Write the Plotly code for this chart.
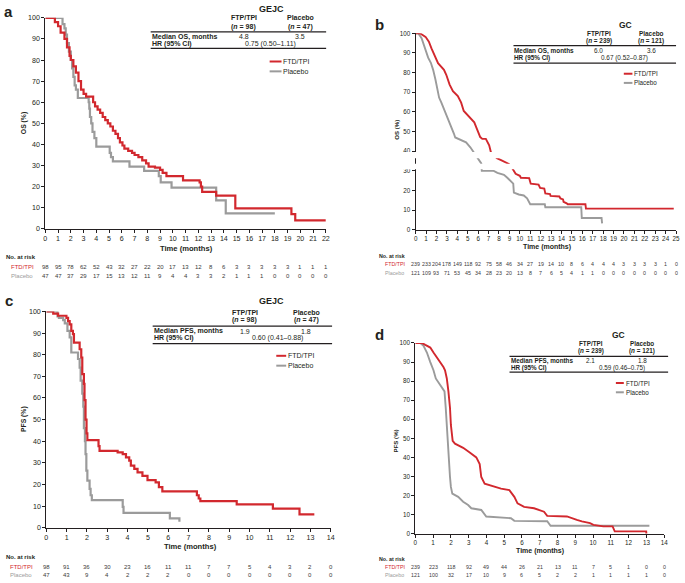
import plotly.graph_objects as go

W, H = 685, 583
RED = '#d2282e'
GREY = '#9b9b9b'
INK = '#231f20'
FONT = 'Liberation Sans, Arial, sans-serif'

# ---- a: GEJC, overall survival (step changes) ----
os_gejc_ftd_t = [0, 0.75, 1.0, 1.2, 1.5, 1.7, 1.9, 2.0, 2.2, 2.4, 2.6, 2.8, 3.0, 3.2, 3.75, 3.9,
                 4.1, 4.3, 4.5, 4.7, 4.9, 5.1, 5.3, 5.5, 5.7, 5.85, 6.05, 6.2, 6.5, 6.8, 7.0, 7.3,
                 7.6, 7.9, 8.1, 8.6, 9.0, 9.2, 9.5, 10.8, 12.1, 12.2, 12.3, 13.4, 14.9, 19.3, 19.6, 22.0]
os_gejc_ftd_s = [100, 98, 96, 93, 90, 86, 82, 80, 77, 74, 70, 66, 64, 62.7, 60, 58,
                 56.5, 55, 53, 51.5, 50, 48.5, 46.5, 45, 43, 41, 39.5, 38, 37, 36, 35, 34,
                 32.5, 31, 29.5, 29, 28, 26.5, 25, 23, 22, 20, 17.5, 15.8, 9.7, 7, 4, 4]
os_gejc_pbo_t = [0, 1.35, 1.5, 1.6, 1.7, 1.85, 2.0, 2.1, 2.2, 2.3, 2.4, 2.55, 3.4, 3.45, 3.5,
                 3.6, 3.7, 3.85, 4.0, 5.05, 5.15, 5.3, 6.6, 7.75, 8.9, 9.05, 9.9, 13.4, 14.15, 18.0]
os_gejc_pbo_s = [100, 97, 95, 92, 88, 84, 80, 76, 72, 68, 66, 62, 60, 57, 53,
                 50, 46, 43, 39, 36, 34, 32, 29.5, 27.5, 25, 22, 19.5, 13.5, 7.3, 7.3]
os_gejc_risk_ftd = [98, 95, 78, 62, 52, 43, 32, 27, 22, 20, 17, 13, 12, 8, 6, 3, 3, 3, 3, 3, 1, 1, 1]
os_gejc_risk_pbo = [47, 47, 37, 29, 17, 15, 13, 12, 11, 9, 4, 4, 3, 3, 2, 1, 1, 1, 0, 0, 0, 0, 0]

# ---- b: GC, overall survival (traced outline) ----
os_gc_ftd_t = [0, 0.41, 0.95, 1.27, 1.52, 1.84, 2.15, 2.72, 2.94, 3.26, 3.58, 4.05, 4.37, 4.62,
               5.16, 5.63, 5.89, 6.2, 6.4, 6.74, 7.06, 7.22, 7.5, 7.8, 8.2, 8.6, 8.95, 9.2, 9.43,
               9.6, 10.0, 10.1, 10.9, 11.05, 11.8, 11.95, 12.35, 12.45, 12.9, 12.95, 13.8, 13.9,
               14.15, 14.2, 14.5, 14.6, 16.3, 16.35, 24.78]
os_gc_ftd_s = [100, 100, 98.2, 95.7, 92.3, 88.1, 84.8, 81.4, 78.9, 73.9, 70.6, 68.1, 64.7, 60.5,
               57.2, 54.7, 51.3, 47.2, 46.3, 46.3, 43, 39.6, 38, 36.5, 35.5, 34.5, 33.5, 32, 30,
               28.5, 27.5, 26.5, 26.3, 23.5, 23, 21.3, 21, 18.5, 18.2, 17.3, 17, 16,
               15.5, 14.3, 13.5, 13, 13, 10.8, 10.8]
os_gc_pbo_t = [0, 0.25, 0.57, 0.82, 1.04, 1.2, 1.46, 1.68, 1.9, 2.09, 2.25, 2.47, 2.72, 3.04, 3.42,
               3.67, 3.8, 4.2, 4.5, 4.84, 5.25, 5.47, 5.7, 5.9, 6.1, 6.3, 6.35, 7.5, 7.85, 8.48,
               8.8, 9.11, 9.37, 9.43, 9.9, 10.38, 10.7, 11.0, 12.4, 12.45, 15.9, 15.95, 17.85, 17.9]
os_gc_pbo_s = [100, 100, 97.5, 93.4, 90, 87.6, 85, 81.4, 76.5, 71.4, 67.3, 64.7, 61.5, 57.2, 53,
               49, 47, 46, 45.5, 44.5, 42, 40.2, 38.5, 36.5, 35, 33.8, 30, 30, 29, 28,
               26.5, 25, 23.5, 19, 18, 17.5, 16, 13, 13, 11.5, 11.5, 6, 6, 3.3]
os_gc_risk_ftd = [239, 233, 204, 178, 149, 118, 92, 75, 58, 46, 34, 27, 19, 14, 10, 8, 6, 4, 4, 4,
                  3, 3, 3, 3, 1, 0]
os_gc_risk_pbo = [121, 109, 93, 71, 53, 45, 34, 28, 23, 20, 13, 8, 7, 6, 5, 4, 1, 1, 0, 0,
                  0, 0, 0, 0, 0, 0]

# ---- c: GEJC, progression-free survival (step changes) ----
pfs_gejc_ftd_t = [0, 0.34, 0.58, 0.99, 1.07, 1.15, 1.23, 1.31, 1.36, 1.64, 1.72, 1.77, 1.85, 1.88,
                  1.93, 1.98, 2.02, 2.57, 2.62, 3.51, 3.76, 3.92, 4.08, 4.16, 4.33, 4.49, 4.73,
                  4.98, 5.38, 5.54, 5.71, 7.41, 7.5, 7.58, 9.37, 11.15, 12.46, 13.19]
pfs_gejc_ftd_s = [100, 99, 98, 97, 95.5, 94, 91, 89.5, 85.6, 82.5, 78.7, 71, 66.5, 59,
                  50, 43.6, 40.5, 37.7, 35.5, 34.8, 34, 32.5, 31, 28.7, 27.2, 25.6, 24,
                  22, 21, 18.8, 16.8, 15, 13.5, 12.3, 10.8, 8.8, 6.2, 6.2]
pfs_gejc_pbo_t = [0, 0.55, 0.62, 0.83, 0.91, 1.04, 1.15, 1.23, 1.56, 1.64, 1.69, 1.77, 1.82, 1.85,
                  1.9, 1.93, 1.97, 2.02, 2.13, 2.18, 2.24, 3.76, 3.8, 6.08, 6.55]
pfs_gejc_pbo_s = [100, 97.7, 97, 96, 94.5, 91, 88, 81, 78, 74, 68, 62, 56, 46,
                  40, 34, 26.4, 21.8, 18, 15, 12.8, 9.6, 6.9, 4.3, 2.7]
pfs_gejc_risk_ftd = [98, 91, 36, 30, 23, 16, 11, 11, 7, 7, 5, 4, 3, 2, 0]
pfs_gejc_risk_pbo = [47, 43, 9, 4, 2, 2, 2, 0, 0, 0, 0, 0, 0, 0, 0]

# ---- d: GC, progression-free survival (traced outline) ----
pfs_gc_ftd_t = [0, 0.37, 0.56, 0.84, 1.02, 1.21, 1.39, 1.58, 1.67, 1.77, 1.86, 1.95, 2.0, 2.05,
                2.1, 2.23, 2.69, 3.06, 3.43, 3.62, 3.71, 3.9, 4.45, 4.82, 5.29, 5.57, 5.75, 6.12,
                6.68, 6.96, 7.24, 7.42, 8.53, 9.09, 9.37, 9.83, 10.02, 10.58, 11.1, 11.22, 12.99, 13.0]
pfs_gc_ftd_s = [100, 100, 99, 97.6, 95, 92.5, 90, 87.4, 85.7, 81.4, 74.6, 66, 57, 50,
                48.6, 47.2, 45, 42.6, 40, 36.5, 29.7, 26.2, 24.5, 23.6, 22.8, 19.3, 15.9, 14,
                13.3, 12.4, 11.5, 9.3, 9, 7.2, 6.4, 5.5, 4.6, 3.8, 3.8, 1.2, 1.2, 0]
pfs_gc_pbo_t = [0, 0.28, 0.46, 0.65, 0.84, 1.02, 1.15, 1.39, 1.64, 1.71, 1.77, 1.86, 1.95, 2.0,
                2.08, 2.41, 2.69, 2.97, 3.15, 3.71, 3.9, 3.99, 5.38, 5.57, 7.42, 7.61, 13.17]
pfs_gc_pbo_s = [100, 100, 98.5, 95, 90, 85.7, 81.4, 78, 74.6, 66, 55, 41.7, 29.7, 24.5,
                21, 19.3, 16.7, 15, 13.3, 12.4, 10.3, 9, 8.1, 6.7, 6.5, 4.1, 4.1]
pfs_gc_risk_ftd = [239, 223, 118, 92, 49, 44, 26, 21, 13, 11, 7, 5, 1, 0, 0]
pfs_gc_risk_pbo = [121, 100, 32, 17, 10, 9, 6, 5, 2, 2, 1, 1, 1, 1, 0]


def px(x):
    return x / W


def py(y):
    return 1 - y / H


panels = [
    dict(letter='a', xmax=22, box=(43.7, 326.7, 14.0, 228.0), shape='hv', lw=2.2,
         ftd=(os_gejc_ftd_t, os_gejc_ftd_s), pbo=(os_gejc_pbo_t, os_gejc_pbo_s),
         risk=(os_gejc_risk_ftd, os_gejc_risk_pbo), ytitle='OS (%)',
         tick=7.1, small=6.0, xtsize=7.6,
         letter_xy=(7, 8), ytitle_xy=(23, 121), xtitle_xy=(186, 248),
         risk_y=(256.7, 267, 276), risk_lbl_x=(2.7, 8.3),
         table=dict(title='GEJC', title_xy=(272, 5), cols=(244, 301), head_y=(14, 23.3),
                    n=('98', '47'), rule_x=(150, 327), rule_y=(28.3, 45), row_y=(33.3, 41),
                    lbl='Median OS, months', med=('4.8', '3.5'), hr='0.75 (0.50–1.11)',
                    hr_x=271, size=7.0, tsize=9),
         legend=dict(x=(270, 282), y=(58.3, 68.3)), lsize=7.0),
    dict(letter='b', xmax=25, box=(417.3, 680.0, 29.7, 229.0), shape='linear', lw=1.9,
         ftd=(os_gc_ftd_t, os_gc_ftd_s), pbo=(os_gc_pbo_t, os_gc_pbo_s),
         risk=(os_gc_risk_ftd, os_gc_risk_pbo), ytitle='OS (%)',
         tick=6.3, small=5.3, xtsize=7.0,
         letter_xy=(381, 20.5), ytitle_xy=(398, 128), xtitle_xy=(550, 246.5),
         risk_y=(255, 264, 272.7), risk_lbl_x=(379.3, 385),
         table=dict(title='GC', title_xy=(629, 21), cols=(602, 655), head_y=(30, 38),
                    n=('239', '121'), rule_x=(516, 680), rule_y=(42.3, 60), row_y=(47.3, 54.7),
                    lbl='Median OS, months', med=('6.0', '3.6'), hr='0.67 (0.52–0.87)',
                    hr_x=628, size=6.4, tsize=8.5),
         legend=dict(x=(627.3, 636), y=(70.7, 80)), lsize=6.3),
    dict(letter='c', xmax=14, box=(44.7, 331.7, 311.7, 531.0), shape='hv', lw=2.2,
         ftd=(pfs_gejc_ftd_t, pfs_gejc_ftd_s), pbo=(pfs_gejc_pbo_t, pfs_gejc_pbo_s),
         risk=(pfs_gejc_risk_ftd, pfs_gejc_risk_pbo), ytitle='PFS (%)',
         tick=7.1, small=6.0, xtsize=7.6,
         letter_xy=(7, 301), ytitle_xy=(22, 421), xtitle_xy=(190, 550.5),
         risk_y=(560.7, 570.7, 579.3), risk_lbl_x=(2.7, 6.7),
         table=dict(title='GEJC', title_xy=(272, 301), cols=(245, 307), head_y=(312.3, 320),
                    n=('98', '47'), rule_x=(152, 333), rule_y=(326.7, 344.3), row_y=(331.7, 338.5),
                    lbl='Median PFS, months', med=('1.9', '1.8'), hr='0.60 (0.41–0.88)',
                    hr_x=278, size=7.0, tsize=9),
         legend=dict(x=(276.7, 286.7), y=(356.7, 366.7)), lsize=7.0),
    dict(letter='d', xmax=14, box=(417.0, 668.0, 343.7, 537.0), shape='linear', lw=1.9,
         ftd=(pfs_gc_ftd_t, pfs_gc_ftd_s), pbo=(pfs_gc_pbo_t, pfs_gc_pbo_s),
         risk=(pfs_gc_risk_ftd, pfs_gc_risk_pbo), ytitle='PFS (%)',
         tick=6.3, small=5.3, xtsize=7.0,
         letter_xy=(381, 335.5), ytitle_xy=(397, 443), xtitle_xy=(543, 554.5),
         risk_y=(562.3, 571, 579.3), risk_lbl_x=(379.3, 385),
         table=dict(title='GC', title_xy=(622, 336), cols=(594, 646), head_y=(344.3, 352.3),
                    n=('239', '121'), rule_x=(512, 672), rule_y=(357.3, 373.3), row_y=(361.7, 369.3),
                    lbl='Median PFS, months', med=('2.1', '1.8'), hr='0.59 (0.46–0.75)',
                    hr_x=625, size=6.3, tsize=8.5),
         legend=dict(x=(619.3, 627.3), y=(384.3, 393.7)), lsize=6.3),
]

fig = go.Figure()
annotations = []
shapes = []


def text(x, y, s, size, color=INK, bold=False, xanchor='center', xref='paper', angle=0):
    if bold:
        s = '<b>' + s + '</b>'
    annotations.append(dict(
        x=x if xref != 'paper' else px(x), y=py(y), xref=xref, yref='paper', text=s,
        showarrow=False, xanchor=xanchor, yanchor='middle', textangle=angle,
        font=dict(family=FONT, size=size, color=color), borderpad=0))


def hline(x0, x1, y, color=INK, width=1.2):
    shapes.append(dict(type='line', xref='paper', yref='paper', x0=px(x0), x1=px(x1),
                       y0=py(y), y1=py(y), line=dict(color=color, width=width)))


for i, p in enumerate(panels, start=1):
    sfx = '' if i == 1 else str(i)
    xa, ya = 'x' + sfx, 'y' + sfx
    x0, x1, ytop, ybot = p['box']

    for (t, s), color in ((p['pbo'], GREY), (p['ftd'], RED)):
        fig.add_trace(go.Scatter(x=t, y=s, mode='lines', xaxis=xa, yaxis=ya,
                                 line=dict(color=color, width=p['lw'], shape=p['shape']),
                                 showlegend=False, hoverinfo='skip'))

    axis_common = dict(showline=True, linecolor=INK, linewidth=1.1, ticks='outside',
                       ticklen=3, tickwidth=1, tickcolor=INK, showgrid=False, zeroline=False,
                       tickfont=dict(family=FONT, size=p['tick'], color=INK))
    fig.update_layout(**{
        'xaxis' + sfx: dict(domain=[px(x0), px(x1)], range=[0, p['xmax']], anchor=ya,
                            tickvals=list(range(p['xmax'] + 1)), **axis_common),
        'yaxis' + sfx: dict(domain=[py(ybot), py(ytop)], range=[0, 100], anchor=xa,
                            tickvals=list(range(0, 101, 10)), **axis_common),
    })

    # panel letter and axis titles
    text(p['letter_xy'][0], p['letter_xy'][1], p['letter'], 15, bold=True)
    text(p['ytitle_xy'][0], p['ytitle_xy'][1], p['ytitle'], p['small'] + 0.8, bold=True, angle=-90)
    text(p['xtitle_xy'][0], p['xtitle_xy'][1], 'Time (months)', p['xtsize'], bold=True)

    # number at risk
    ry_head, ry_ftd, ry_pbo = p['risk_y']
    text(p['risk_lbl_x'][0], ry_head, 'No. at risk', p['small'], bold=True, xanchor='left')
    text(p['risk_lbl_x'][1], ry_ftd, 'FTD/TPI', p['small'], color=RED, xanchor='left')
    text(p['risk_lbl_x'][1], ry_pbo, 'Placebo', p['small'], color=GREY, xanchor='left')
    for k, (nf, npb) in enumerate(zip(*p['risk'])):
        text(k, ry_ftd, str(nf), p['small'], color='#3a3a3a', xref=xa)
        text(k, ry_pbo, str(npb), p['small'], color='#3a3a3a', xref=xa)

    # summary table
    tb = p['table']
    sz = tb['size']
    text(tb['title_xy'][0], tb['title_xy'][1], tb['title'], tb['tsize'], bold=True)
    for col, head, n in zip(tb['cols'], ('FTP/TPI', 'Placebo'), tb['n']):
        text(col, tb['head_y'][0], head, sz, bold=True)
        text(col, tb['head_y'][1], '(<i>n</i> = ' + n + ')', sz, bold=True)
    hline(tb['rule_x'][0], tb['rule_x'][1], tb['rule_y'][0])
    hline(tb['rule_x'][0], tb['rule_x'][1], tb['rule_y'][1])
    text(tb['rule_x'][0], tb['row_y'][0], tb['lbl'], sz, bold=True, xanchor='left')
    text(tb['rule_x'][0], tb['row_y'][1], 'HR (95% CI)', sz, bold=True, xanchor='left')
    for col, m in zip(tb['cols'], tb['med']):
        text(col, tb['row_y'][0], m, sz)
    text(tb['hr_x'], tb['row_y'][1], tb['hr'], sz)

    # legend
    lg = p['legend']
    for yy, color, name in ((lg['y'][0], RED, 'FTD/TPI'), (lg['y'][1], GREY, 'Placebo')):
        hline(lg['x'][0], lg['x'][1], yy, color=color, width=2)
        text(lg['x'][1] + 0.8, yy, name, p['lsize'], xanchor='left')

# white gaps across the y axis of panel b (as in the source figure)
for y_top, y_bot in ((150.0, 156.3), (162.0, 167.6)):
    shapes.append(dict(type='rect', xref='paper', yref='paper', x0=px(398), x1=px(685),
                       y0=py(y_bot), y1=py(y_top), fillcolor='white', line=dict(width=0),
                       layer='above'))

fig.update_layout(
    width=W, height=H, autosize=False,
    margin=dict(l=0, r=0, t=0, b=0),
    paper_bgcolor='white', plot_bgcolor='white',
    font=dict(family=FONT, color=INK),
    annotations=annotations, shapes=shapes,
)

# page margin off so the figure sits at the window's top-left corner
fig.write_html('out.html', config={'displayModeBar': False},
               post_script="document.body.style.margin='0';document.body.style.overflow='hidden';")
